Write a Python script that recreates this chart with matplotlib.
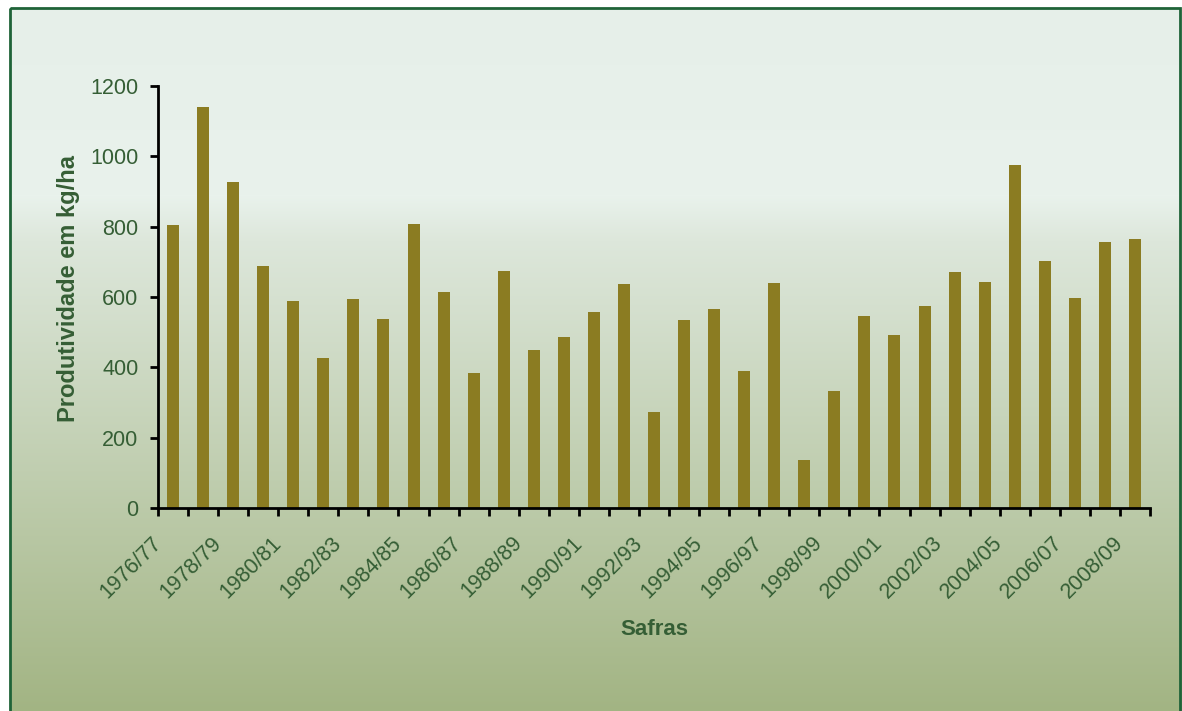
import numpy as np
import matplotlib.pyplot as plt
import matplotlib.transforms as mtransforms
from matplotlib.colors import to_rgb
from matplotlib.patches import Rectangle

plt.rcParams['font.family'] = ['Liberation Sans', 'DejaVu Sans']

safras = [f"{y}/{str(y + 1)[-2:]}" for y in range(1976, 2009)]
produtividade = [805, 1140, 926, 687, 590, 427, 593, 538, 809, 615,
                 385, 675, 450, 487, 558, 638, 273, 536, 567, 390,
                 641, 137, 333, 547, 493, 573, 670, 644, 974, 701,
                 598, 755, 764]

bar_color = '#8b7c22'
text_color = '#355e35'
frame_color = '#1f6338'

W, H = 1182, 711
fig = plt.figure(figsize=(W / 100, H / 100), dpi=100)

# vertical background gradient: pale mint at the top fading into olive green
bg = fig.add_axes([0, 0, 1, 1], zorder=-10)
rows = np.arange(H)
stops_y = [0, 195, 240, H]
stops_c = np.array([to_rgb(c) for c in ['#e6efe9', '#e9f2ec', '#dde7db', '#a2b483']])
grad = np.stack([np.interp(rows, stops_y, stops_c[:, k]) for k in range(3)], axis=1)
img = np.repeat(grad[:, None, :], W, axis=1)
bg.imshow(img, aspect='auto', extent=[0, W, H, 0])
bg.set_xlim(0, W)
bg.set_ylim(H, 0)
bg.add_patch(Rectangle((0, 0), 9, H, color='white', zorder=2))
bg.add_patch(Rectangle((0, 0), W, 7, color='white', zorder=2))
bg.add_patch(Rectangle((9.5, 7.5), W - 11.5, H, fill=False, lw=2, ec=frame_color, zorder=3))
bg.axis('off')

ax = fig.add_axes([158 / W, 1 - 508 / H, (1150 - 158) / W, (508 - 86) / H])
ax.patch.set_alpha(0)
x = np.arange(len(safras))
ax.bar(x, produtividade, width=0.4, color=bar_color, zorder=2)

ax.set_xlim(-0.5, len(safras) - 0.5)
ax.set_ylim(0, 1200)
ax.set_yticks(range(0, 1201, 200))
ax.set_xticks(x[::2])
ax.set_xticklabels(safras[::2], rotation=45, ha='right', va='center',
                   rotation_mode='anchor', fontsize=15.5, color=text_color)
ax.set_xticks(np.arange(-0.5, len(safras), 1), minor=True)
ax.tick_params(axis='x', which='major', length=0, pad=23)
ax.tick_params(axis='x', which='minor', length=6, width=2, direction='out', color='black')
ax.tick_params(axis='y', length=6, width=2, direction='out', labelsize=15.5,
               labelcolor=text_color, pad=8)

# nudge the slanted labels to the left of their bar
shift = mtransforms.ScaledTranslation(-15 / 100, 0, fig.dpi_scale_trans)
for lbl in ax.get_xticklabels():
    lbl.set_transform(lbl.get_transform() + shift)

for side in ('top', 'right'):
    ax.spines[side].set_visible(False)
for side in ('left', 'bottom'):
    ax.spines[side].set_linewidth(2)

ax.set_ylabel('Produtividade em kg/ha', fontsize=17, fontweight='bold', color=text_color)
ax.yaxis.set_label_coords(-0.079, 0.52)
ax.set_xlabel('Safras', fontsize=16, fontweight='bold', color=text_color)
ax.xaxis.set_label_coords(0.5, -0.263)

fig.savefig('out.png', dpi=100)
